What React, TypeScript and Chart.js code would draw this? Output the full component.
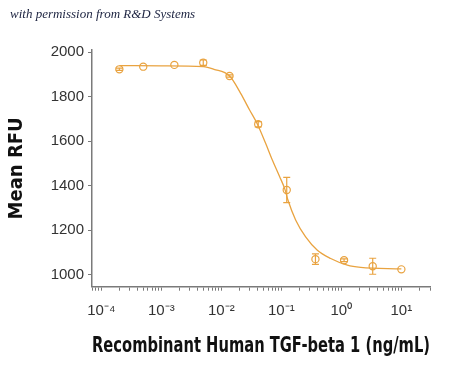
import React, { useEffect, useRef } from 'react';
import { Chart, registerables } from 'chart.js';

Chart.register(...registerables);

// Measured points (concentration in ng/mL, mean RFU, error)
const concentrations = [0.0002, 0.0005, 0.00165, 0.005, 0.0137, 0.0412, 0.123, 0.37, 1.11, 3.33, 10];
const meanRFU = [1923, 1935, 1943, 1953, 1893, 1676, 1380, 1069, 1064, 1037, 1023];
const errorRFU = [5, 0, 0, 12, 5, 12, 57, 24, 6, 36, 0];

// Fitted curve
const fitConc = [0.0002, 0.001, 0.005, 0.00753, 0.01374, 0.021, 0.0296, 0.0398, 0.0547, 0.0708, 0.0938, 0.1148, 0.1288, 0.173, 0.254, 0.398, 0.664, 1.26, 2.1, 10];
const fitRFU = [1940, 1939, 1935, 1923, 1893, 1815, 1740, 1677, 1590, 1515, 1440, 1383, 1335, 1245, 1169, 1109, 1072, 1042, 1032, 1025];

const yTickValues = [1000, 1200, 1400, 1600, 1800, 2000];
const xDecadeExponents = [-4, -3, -2, -1, 0, 1];
const xDecadeLabels = ['10\u207B\u2074', '10\u207B\u00B3', '10\u207B\u00B2', '10\u207B\u00B9', '10\u2070', '10\u00B9'];

const title = 'with permission from R&D Systems';
const xTitle = 'Recombinant Human TGF-beta 1 (ng/mL)';
const yTitle = 'Mean RFU';

const ORANGE = 'rgb(233,163,64)';
const AXIS = '#7a7a7a';
const TITLE_FONT = '"Liberation Sans Narrow", "DejaVu Sans Condensed", sans-serif';
const TICK_FONT = '"Liberation Sans", Arial, sans-serif';

const X_MIN = 7e-5;
const X_MAX = 30;

const errorBarPlugin = {
  id: 'errorBars',
  afterDatasetsDraw(chart: any) {
    const { ctx, scales } = chart;
    const xs = scales.x;
    const ys = scales.y;
    ctx.save();
    ctx.strokeStyle = ORANGE;
    ctx.lineWidth = 1.2;
    concentrations.forEach((c, i) => {
      const e = errorRFU[i];
      if (!e) return;
      const px = xs.getPixelForValue(c);
      const top = ys.getPixelForValue(meanRFU[i] + e);
      const bot = ys.getPixelForValue(meanRFU[i] - e);
      ctx.beginPath();
      ctx.moveTo(px, top);
      ctx.lineTo(px, bot);
      ctx.moveTo(px - 3.5, top);
      ctx.lineTo(px + 3.5, top);
      ctx.moveTo(px - 3.5, bot);
      ctx.lineTo(px + 3.5, bot);
      ctx.stroke();
    });
    ctx.restore();
  },
};

function isDecade(v: number) {
  const l = Math.log10(v);
  return Math.abs(l - Math.round(l)) < 1e-6;
}

export default function App() {
  const ref = useRef<HTMLCanvasElement | null>(null);

  useEffect(() => {
    document.body.style.margin = '0';
    const canvas = ref.current;
    if (!canvas) return;

    const xTicks: number[] = [];
    for (let e = -5; e <= 1; e++) {
      for (let m = 1; m <= 9; m++) {
        const v = m * Math.pow(10, e);
        if (v >= X_MIN * 0.999 && v <= X_MAX * 1.001) xTicks.push(v);
      }
    }

    const chart = new Chart(canvas, {
      type: 'line',
      data: {
        datasets: [
          {
            data: fitConc.map((c, i) => ({ x: c, y: fitRFU[i] })),
            borderColor: ORANGE,
            borderWidth: 1.3,
            pointRadius: 0,
            cubicInterpolationMode: 'monotone',
            fill: false,
          },
          {
            data: concentrations.map((c, i) => ({ x: c, y: meanRFU[i] })),
            showLine: false,
            borderColor: ORANGE,
            backgroundColor: 'rgba(255,255,255,0)',
            pointBorderColor: ORANGE,
            pointBackgroundColor: 'rgba(255,255,255,0)',
            pointBorderWidth: 1.2,
            pointRadius: 3.6,
            pointStyle: 'circle',
          },
        ],
      },
      options: {
        animation: false,
        responsive: false,
        devicePixelRatio: 1,
        layout: { padding: { top: 50, right: 20, left: 0, bottom: 0 } },
        plugins: {
          legend: { display: false },
          tooltip: { enabled: false },
        },
        scales: {
          x: {
            type: 'logarithmic',
            min: X_MIN,
            max: X_MAX,
            afterBuildTicks: (scale: any) => {
              scale.ticks = xTicks.map((v) => ({ value: v, major: isDecade(v) }));
            },
            afterFit: (scale: any) => {
              scale.height = 78.3;
            },
            ticks: {
              autoSkip: false,
              maxRotation: 0,
              minRotation: 0,
              padding: 11,
              color: '#333',
              font: { family: TICK_FONT, size: 15 },
              callback: (value: any) => {
                const v = Number(value);
                if (!isDecade(v)) return '';
                const idx = xDecadeExponents.indexOf(Math.round(Math.log10(v)));
                return idx >= 0 ? xDecadeLabels[idx] : '';
              },
            },
            grid: {
              display: true,
              drawOnChartArea: false,
              drawTicks: true,
              tickLength: 4,
              tickColor: AXIS,
              tickWidth: 1,
            },
            border: { display: true, color: AXIS, width: 1.5 },
            title: {
              display: true,
              text: xTitle,
              color: '#111',
              font: { family: TITLE_FONT, size: 21, weight: 'bold' },
              padding: { top: 0, bottom: 6 },
            },
          },
          y: {
            type: 'linear',
            min: 945,
            max: 2010,
            afterBuildTicks: (scale: any) => {
              scale.ticks = yTickValues.map((v) => ({ value: v }));
            },
            afterFit: (scale: any) => {
              scale.width = 92;
            },
            ticks: {
              padding: 4,
              color: '#333',
              font: { family: TICK_FONT, size: 15 },
              callback: (value: any) => String(value),
            },
            grid: {
              display: true,
              drawOnChartArea: false,
              drawTicks: true,
              tickLength: 4,
              tickColor: AXIS,
              tickWidth: 1,
            },
            border: { display: true, color: AXIS, width: 1.5 },
            title: {
              display: true,
              text: yTitle,
              color: '#111',
              font: { family: TITLE_FONT, size: 20, weight: 'bold' },
              padding: { top: 5, bottom: 0 },
            },
          },
        },
      } as any,
      plugins: [errorBarPlugin],
    });

    return () => chart.destroy();
  }, []);

  return (
    <div style={{ position: 'absolute', left: 0, top: 0, width: 450, height: 365, background: '#fff' }}>
      <canvas ref={ref} width={450} height={365} style={{ position: 'absolute', left: 0, top: 0 }} />
      <div
        style={{
          position: 'absolute',
          left: 10,
          top: 6,
          fontFamily: '"Liberation Serif", serif',
          fontStyle: 'italic',
          fontSize: 13,
          color: '#1c2340',
          whiteSpace: 'nowrap',
        }}
      >
        {title}
      </div>
    </div>
  );
}
